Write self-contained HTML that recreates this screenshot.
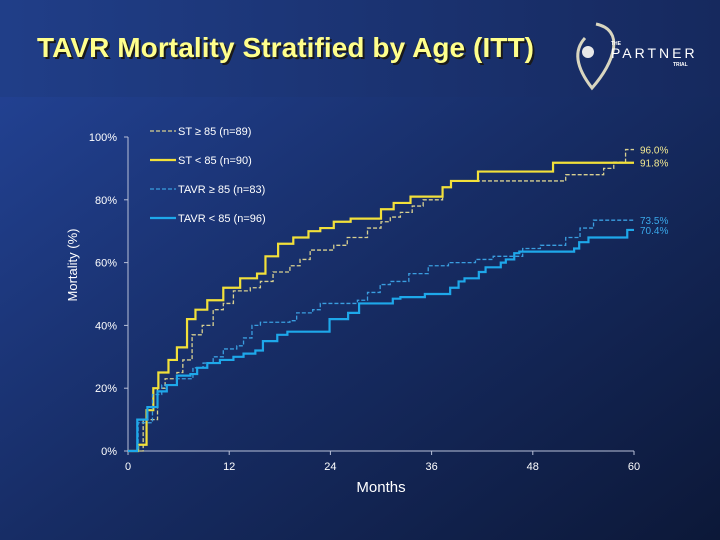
<!DOCTYPE html>
<html><head><meta charset="utf-8"><style>
html,body{margin:0;padding:0;width:720px;height:540px;overflow:hidden;background:#13275a}
svg{display:block;font-family:"Liberation Sans",sans-serif}
</style></head><body>
<svg id="chart" width="720" height="540" viewBox="0 0 720 540">
<defs>
<linearGradient id="bg" x1="0" y1="0" x2="1" y2="1">
<stop offset="0" stop-color="#24459a"/><stop offset="0.5" stop-color="#172d66"/><stop offset="1" stop-color="#0c1838"/>
</linearGradient>
<linearGradient id="hd" x1="0" y1="0" x2="1" y2="0">
<stop offset="0" stop-color="#203e88"/><stop offset="1" stop-color="#16295e"/>
</linearGradient>
</defs>
<rect x="0" y="0" width="720" height="540" fill="url(#bg)"/>
<rect x="0" y="0" width="720" height="97" fill="url(#hd)"/>
<text x="39" y="59" font-size="28" font-weight="bold" fill="#1a1a1a" textLength="497">TAVR Mortality Stratified by Age (ITT)</text>
<text x="37" y="57" font-size="28" font-weight="bold" fill="#ffff8c" textLength="497">TAVR Mortality Stratified by Age (ITT)</text>
<g>
<path d="M596 24 C625 30 615 62 592 88 C578 70 572 52 585 38" fill="none" stroke="#d9d6c0" stroke-width="3"/>
<circle cx="588" cy="52" r="6" fill="#e8e8e8"/>
<text x="611" y="45" font-size="5" fill="#fff" font-weight="bold">THE</text>
<text x="611" y="58" font-size="14" fill="#fff" letter-spacing="3">PARTNER</text>
<text x="673" y="66" font-size="5" fill="#fff" font-weight="bold">TRIAL</text>
</g>
<g id="axes" stroke="#b8c0d8" stroke-width="1"></g>
<g id="ticks"></g>
<text x="77" y="265" transform="rotate(-90 77 265)" text-anchor="middle" font-size="13" fill="#fff">Mortality (%)</text>
<text x="381" y="492" text-anchor="middle" font-size="15" fill="#fff">Months</text>
<g id="series"></g>
<g id="legend"></g>
</svg>
<script>
const xTicks=[0,12,24,36,48,60];
const yTicks=[0,20,40,60,80,100];
const stGe85=[[0,0],[1.8,10],[3.5,20],[4.4,23],[5.8,25],[6.5,29],[7.6,37],[8.8,40],[10.1,45],[11.3,47],[12.5,51],[14.5,52],[15.7,54],[17.2,57],[19.2,59],[20.4,61],[21.6,64],[24.4,65.5],[26,68],[28.4,71],[30,73],[31.1,74.5],[32.3,76],[33.7,78],[35,80],[37.3,84],[38.3,86],[51.9,88],[56.4,90],[57.6,92],[59,96]];
const stLt85=[[0,0],[1.2,2],[2.2,13],[3,20],[3.6,25],[4.8,29],[5.8,33],[7,42],[8,45],[9.4,48],[11.3,52],[13.3,55],[15.3,56.5],[16.3,62],[17.8,66],[19.6,68],[21.4,70],[22.8,71],[24.4,73],[26.4,74],[30,77],[31.5,79],[33.5,81],[37.3,84],[38.3,86],[41.5,89],[50.4,91.8]];
const tavrGe85=[[0,0],[1.2,9],[2.9,18],[4,21],[5.8,23],[7.7,26.5],[8.9,28],[10.1,30],[11.3,32.5],[12.9,33.5],[13.7,36],[14.7,40],[15.7,41],[19.2,41.5],[20,44],[21.9,45],[22.8,47],[27.2,48],[28.4,50.5],[29.9,53],[31.1,54],[33.3,56.5],[35.6,59],[38,60],[41.2,61],[43.3,62],[46.8,64.5],[48.9,65.5],[51.9,68],[53.6,71],[55.2,73.5]];
const tavrLt85=[[0,0],[1.1,10],[2.3,14],[3.5,19],[4.6,21],[5.8,24],[7.4,24.5],[8.2,26.5],[9.4,28],[10.9,29],[12.5,30],[13.7,31],[15.1,32],[16,35],[17.7,37],[18.9,38],[23.9,42],[26.1,44],[27.4,47],[31.4,48.5],[32.3,49],[35.2,50],[38.2,52],[39.2,54],[39.9,55],[41.6,57],[42.4,58.5],[44.2,60],[44.8,61],[45.8,63],[46.4,63.5],[52.9,64.5],[53.5,66.5],[54.6,68],[59.2,70.4]];
const seriesNames=["ST ≥ 85 (n=89)","ST < 85 (n=90)","TAVR ≥ 85 (n=83)","TAVR < 85 (n=96)"];
const endLabels=["96.0%","91.8%","73.5%","70.4%"];
const NS="http://www.w3.org/2000/svg";
const X0=128,X1=634,Y0=451,Y1=137;
const xs=m=>X0+(m/60)*(X1-X0);
const ys=p=>Y0-(p/100)*(Y0-Y1);
function mk(t,a,parent){const e=document.createElementNS(NS,t);for(const k in a)e.setAttribute(k,a[k]);parent.appendChild(e);return e;}
const axes=document.getElementById('axes'),ticks=document.getElementById('ticks');
let l=mk('line',{x1:X0,y1:Y0,x2:X1,y2:Y0},axes);


l=mk('line',{x1:X0,y1:Y0,x2:X0,y2:Y1},axes);


xTicks.forEach(v=>{
 mk('line',{x1:xs(v),y1:Y0,x2:xs(v),y2:Y0+4},axes);
 const t=mk('text',{x:xs(v),y:Y0+19,'text-anchor':'middle','font-size':11,fill:'#fff'},ticks);t.textContent=v;
 
 
});
yTicks.forEach(v=>{
 mk('line',{x1:X0-4,y1:ys(v),x2:X0,y2:ys(v)},axes);
 const t=mk('text',{x:X0-11,y:ys(v)+4,'text-anchor':'end','font-size':11,fill:'#fff'},ticks);t.textContent=v+'%';
 
 
});
const data=[stGe85,stLt85,tavrGe85,tavrLt85];
const colors=['#d8d090','#f2e03a','#3a9ee0','#1ea8ea'];
const dash=['4,2','','4,2',''];
const widths=[1.3,2.2,1.3,2.2];
const names=['st-ge85-line','st-lt85-line','tavr-ge85-line','tavr-lt85-line'];
const sg=document.getElementById('series');
data.forEach((d,i)=>{
 let p='M'+xs(d[0][0])+','+ys(d[0][1]);
 for(let k=1;k<d.length;k++){p+=' H'+xs(d[k][0])+' V'+ys(d[k][1]);}
 const last=d[d.length-1][1];
 p+=' H'+xs(60);
 const e=mk('path',{d:p,fill:'none',stroke:colors[i],'stroke-width':widths[i],'stroke-dasharray':dash[i]},sg);
 
 
 const t=mk('text',{x:xs(60)+6,y:ys(last)+4,'font-size':10,fill:i<2?'#f2e890':'#3aa8ea'},sg);
 t.textContent=endLabels[i];
 
 
});
const lg=document.getElementById('legend');
seriesNames.forEach((n,i)=>{
 const y=131+i*29;
 const ln=mk('line',{x1:150,y1:y,x2:176,y2:y,stroke:colors[i],'stroke-width':widths[i],'stroke-dasharray':dash[i]},lg);
 
 
 const t=mk('text',{x:178,y:y+4,'font-size':11,fill:'#fff'},lg);t.textContent=n;
 
 
});
</script>
</body></html>
